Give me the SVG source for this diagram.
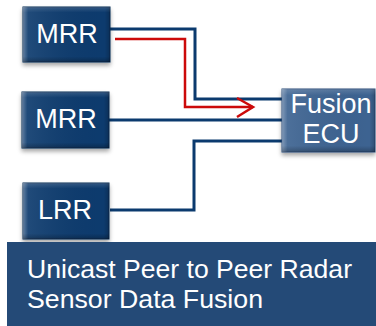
<svg xmlns="http://www.w3.org/2000/svg" width="376" height="326" viewBox="0 0 376 326">
<defs>
<style>
.node{fill:#0d3b6e;stroke:#082a52;stroke-width:1}
.ecu{fill:#3d6391;stroke:#2b4d78;stroke-width:1}
.lbl{font-family:"Liberation Sans",Arial,sans-serif;font-size:27px;fill:#ffffff;text-anchor:middle}
.wire{fill:none;stroke:#0b3a6e;stroke-width:3}
.red{fill:none;stroke:#cc0a0a;stroke-width:2.5}
.cap{font-family:"Liberation Sans",Arial,sans-serif;font-size:25px;fill:#ffffff}
</style>
<linearGradient id="bev" x1="0" y1="0" x2="1" y2="0">
<stop offset="0" stop-color="#ffffff" stop-opacity="0.35"/>
<stop offset="0.06" stop-color="#ffffff" stop-opacity="0.08"/>
<stop offset="0.94" stop-color="#000000" stop-opacity="0"/>
<stop offset="1" stop-color="#000000" stop-opacity="0.2"/>
</linearGradient>
<linearGradient id="bevv" x1="0" y1="0" x2="0" y2="1">
<stop offset="0" stop-color="#ffffff" stop-opacity="0.15"/>
<stop offset="0.1" stop-color="#ffffff" stop-opacity="0"/>
<stop offset="0.9" stop-color="#000000" stop-opacity="0"/>
<stop offset="1" stop-color="#000000" stop-opacity="0.25"/>
</linearGradient>
<filter id="sh" x="-20%" y="-20%" width="140%" height="150%">
<feDropShadow dx="0" dy="3" stdDeviation="2" flood-color="#000" flood-opacity="0.35"/>
</filter>
</defs>
<g id="connectors">
<polyline class="wire" points="110,29 195,29 195,99 282,99"/>
<polyline class="wire" points="109,120 282,120"/>
<polyline class="wire" points="282,141 194,141 194,210 110,210"/>
<polyline class="red" points="115,39 185,39 185,107 253,107"/>
<polyline class="red" points="237,98 253,107 237,117"/>
</g>
<g id="mrr1">
<rect class="node" x="23" y="7" width="87" height="55" filter="url(#sh)"/>
<rect x="23" y="7" width="87" height="55" fill="url(#bev)"/>
<rect x="23" y="7" width="87" height="55" fill="url(#bevv)"/>
<text class="lbl" x="67" y="43">MRR</text>
</g>
<g id="mrr2">
<rect class="node" x="22" y="92" width="87" height="56" filter="url(#sh)"/>
<rect x="22" y="92" width="87" height="56" fill="url(#bev)"/>
<rect x="22" y="92" width="87" height="56" fill="url(#bevv)"/>
<text class="lbl" x="66" y="128">MRR</text>
</g>
<g id="lrr">
<rect class="node" x="23" y="183" width="86" height="56" filter="url(#sh)"/>
<rect x="23" y="183" width="86" height="56" fill="url(#bev)"/>
<rect x="23" y="183" width="86" height="56" fill="url(#bevv)"/>
<text class="lbl" x="65" y="219">LRR</text>
</g>
<g id="fusion">
<rect class="ecu" x="282" y="89" width="93" height="63" filter="url(#sh)"/>
<rect x="282" y="89" width="93" height="63" fill="url(#bev)"/>
<rect x="282" y="89" width="93" height="63" fill="url(#bevv)"/>
<text class="lbl" x="331" y="113" font-size="27">Fusion</text>
<text class="lbl" x="331" y="143" font-size="27">ECU</text>
</g>
<g id="banner">
<rect x="7" y="242" width="369" height="84" fill="#244a77"/>
<text class="cap" x="27" y="278" textLength="325" lengthAdjust="spacingAndGlyphs">Unicast Peer to Peer Radar</text>
<text class="cap" x="27" y="308" textLength="236" lengthAdjust="spacingAndGlyphs">Sensor Data Fusion</text>
</g>
</svg>
